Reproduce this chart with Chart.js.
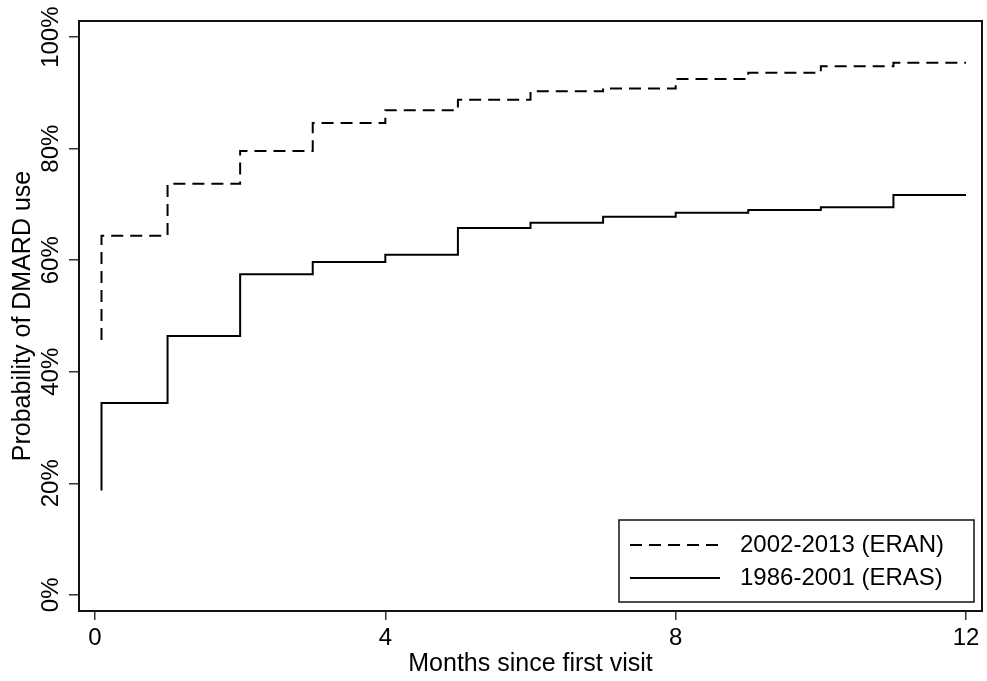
<!DOCTYPE html>
<html>
<head>
<meta charset="utf-8">
<title>Probability of DMARD use</title>
<script src="https://cdn.jsdelivr.net/npm/chart.js@4"></script>
<style>
	html, body { margin: 0; padding: 0; background: #fff; }
	#wrap { width: 987px; height: 681px; position: relative; }
</style>
</head>
<body>
<div id="wrap"><canvas id="myChart"></canvas></div>
<script>
// 데이터 (months since first visit / step values in %)
const monthPoints = [0.09, 0.09, 1, 2, 3, 4, 5, 6, 7, 8, 9, 10, 11, 12];
const eranValues = [45.7, 64.4, 73.7, 79.6, 84.6, 86.9, 88.8, 90.3, 90.8, 92.5, 93.6, 94.8, 95.4, 95.4];
const erasValues = [18.7, 34.4, 46.4, 57.5, 59.7, 61.0, 65.8, 66.7, 67.8, 68.5, 69.0, 69.5, 71.7, 71.7];
const seriesNames = ['2002-2013 (ERAN)', '1986-2001 (ERAS)'];
const xTickValues = [0, 4, 8, 12];
const yTickValues = [0, 20, 40, 60, 80, 100];

const FONT = '"Liberation Sans", Arial, Helvetica, sans-serif';

function toPoints(values) {
	return values.map((v, i) => ({ x: monthPoints[i], y: v }));
}

// frame around the plot area (top/right too)
const framePlugin = {
	id: 'frame',
	afterDraw(chart) {
		const a = chart.chartArea;
		const ctx = chart.ctx;
		ctx.save();
		ctx.strokeStyle = '#111';
		ctx.lineWidth = 2;
		ctx.strokeRect(a.left, a.top, a.right - a.left, a.bottom - a.top);
		ctx.restore();
	}
};

// legend box in the lower right corner of the plot
const boxLegendPlugin = {
	id: 'boxLegend',
	afterDraw(chart) {
		const a = chart.chartArea;
		const ctx = chart.ctx;
		const w = 355, h = 82;
		const left = a.right - 8 - w;
		const top = a.bottom - 9 - h;
		ctx.save();
		ctx.fillStyle = '#fff';
		ctx.fillRect(left, top, w, h);
		ctx.strokeStyle = '#111';
		ctx.lineWidth = 1.5;
		ctx.strokeRect(left, top, w, h);
		ctx.font = '24px ' + FONT;
		ctx.textBaseline = 'middle';
		ctx.fillStyle = '#000';
		chart.data.datasets.forEach((ds, i) => {
			const y = top + 25 + i * 33;
			ctx.beginPath();
			ctx.setLineDash(ds.borderDash || []);
			ctx.lineWidth = ds.borderWidth;
			ctx.strokeStyle = ds.borderColor;
			ctx.moveTo(left + 11, y);
			ctx.lineTo(left + 101, y);
			ctx.stroke();
			ctx.setLineDash([]);
			ctx.fillText(ds.label, left + 121, y);
		});
		ctx.restore();
	}
};

let ctx = document.getElementById('myChart').getContext('2d');
let myChart = new Chart(ctx, {
	type: 'line',
	data: {
		datasets: [{
			label: seriesNames[0],
			data: toPoints(eranValues),
			stepped: 'before', // horizontal first, then up at the event time
			borderColor: '#000',
			borderWidth: 2,
			borderDash: [12, 7],
			pointRadius: 0,
			fill: false
		}, {
			label: seriesNames[1],
			data: toPoints(erasValues),
			stepped: 'before',
			borderColor: '#000',
			borderWidth: 2,
			pointRadius: 0,
			fill: false
		}]
	},
	options: {
		responsive: true,
		maintainAspectRatio: false,
		animation: false,
		layout: { padding: { left: 0, right: 5, top: 21, bottom: 0 } },
		plugins: {
			legend: { display: false },
			tooltip: { enabled: false }
		},
		scales: {
			x: {
				type: 'linear',
				min: -0.22,
				max: 12.22,
				afterBuildTicks: s => { s.ticks = xTickValues.map(v => ({ value: v })); },
				afterFit: s => { s.height = 70; },
				border: { display: false },
				grid: { drawOnChartArea: false, tickLength: 9, color: '#333', lineWidth: 1.5 },
				ticks: { color: '#000', padding: 4, maxRotation: 0, font: { family: FONT, size: 24 } },
				title: {
					display: true,
					text: 'Months since first visit',
					color: '#000',
					font: { family: FONT, size: 25 },
					padding: { top: 0, bottom: 2 }
				}
			},
			y: {
				type: 'linear',
				min: -2.9,
				max: 102.9,
				afterBuildTicks: s => { s.ticks = yTickValues.map(v => ({ value: v })); },
				afterFit: s => { s.width = 79; },
				border: { display: false },
				grid: { drawOnChartArea: false, tickLength: 10, color: '#333', lineWidth: 1.5 },
				ticks: {
					color: '#000',
					minRotation: 90,
					maxRotation: 90,
					crossAlign: 'center',
					padding: -13,
					font: { family: FONT, size: 24 },
					callback: v => v + '%'
				},
				title: {
					display: true,
					text: 'Probability of DMARD use',
					color: '#000',
					font: { family: FONT, size: 25 },
					padding: { top: 8, bottom: 0 }
				}
			}
		}
	},
	plugins: [framePlugin, boxLegendPlugin]
}); // new Chart
</script>
</body>
</html>
